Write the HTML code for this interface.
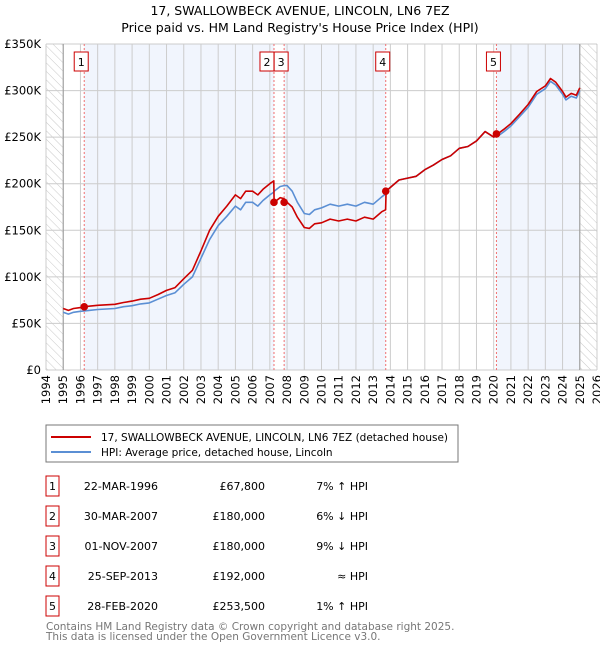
<!DOCTYPE html>
<html><head><meta charset="utf-8">
<style>
body{margin:0;background:#fff;font-family:"Liberation Sans","DejaVu Sans",sans-serif;}
#wrap{position:relative;width:600px;height:650px;overflow:hidden;}
text{font-family:"DejaVu Sans","Liberation Sans",sans-serif;}
</style></head>
<body>
<div id="wrap">
<svg id="svg" width="600" height="650" xmlns="http://www.w3.org/2000/svg">
<defs>
<pattern id="hatch" width="6" height="6" patternUnits="userSpaceOnUse" patternTransform="rotate(-45)">
<line x1="0" y1="0" x2="0" y2="6" stroke="#bbb" stroke-width="0.8"/>
</pattern>
</defs>
<text x="300" y="15" font-size="12.5" text-anchor="middle">17, SWALLOWBECK AVENUE, LINCOLN, LN6 7EZ</text>
<text x="300" y="32" font-size="12.5" text-anchor="middle">Price paid vs. HM Land Registry's House Price Index (HPI)</text>
<g id="plot"></g>
<g>
<rect x="46" y="425" width="412" height="37" fill="#fff" stroke="#777" stroke-width="1"/>
<line x1="51" y1="437" x2="91" y2="437" stroke="#cc0000" stroke-width="2"/>
<text x="101" y="441" font-size="10.5">17, SWALLOWBECK AVENUE, LINCOLN, LN6 7EZ (detached house)</text>
<line x1="51" y1="452" x2="91" y2="452" stroke="#5b8fd4" stroke-width="2"/>
<text x="101" y="456" font-size="10.5">HPI: Average price, detached house, Lincoln</text>
</g>
<g id="table" font-size="11"></g>
<text x="46" y="630" font-size="10.5" fill="#777">Contains HM Land Registry data © Crown copyright and database right 2025.</text>
<text x="46" y="640" font-size="10.5" fill="#777">This data is licensed under the Open Government Licence v3.0.</text>
</svg>
</div>
<script>
const years=[1995.0,1995.3,1995.6,1996.0,1996.5,1997.0,1997.5,1998.0,1998.5,1999.0,1999.5,2000.0,2000.5,2001.0,2001.5,2002.0,2002.5,2003.0,2003.5,2004.0,2004.5,2005.0,2005.3,2005.6,2006.0,2006.3,2006.6,2007.0,2007.23,2007.25,2007.6,2007.82,2008.0,2008.3,2008.6,2009.0,2009.3,2009.6,2010.0,2010.5,2011.0,2011.5,2012.0,2012.5,2013.0,2013.5,2013.72,2013.75,2014.0,2014.5,2015.0,2015.5,2016.0,2016.5,2017.0,2017.5,2018.0,2018.5,2019.0,2019.5,2020.0,2020.3,2020.6,2021.0,2021.5,2022.0,2022.5,2023.0,2023.3,2023.6,2024.0,2024.2,2024.5,2024.8,2025.0];
const hpi=[62,60,62,63,64,65,65.5,66,68,69,71,72,76,80,83,92,100,120,140,155,165,176,172,180,180,176,182,188,191,192,197,198,198,192,180,168,167,172,174,178,176,178,176,180,178,186,189,192,196,204,206,208,215,220,226,230,238,240,246,256,250,252,256,262,272,282,296,302,310,306,296,290,294,292,300];
const paid=[66,64,66,67,68.5,69.5,70,70.5,72.5,74,76,77,81,85.5,88.5,98,107,128,150,165,176,188,184,192,192,188,194,200,203,180,185,184,180,175,164,153,152,157,158,162,160,162,160,164,162,170,172,192,196,204,206,208,215,220,226,230,238,240,246,256,250,254.5,258.5,264.5,274.5,285,299,305,313,309,299,293,297,295,303];
const yTicks=[0,50,100,150,200,250,300,350];
const yTickLabels=["£0","£50K","£100K","£150K","£200K","£250K","£300K","£350K"];
const saleDates=[1996.22,2007.24,2007.83,2013.73,2020.16];
const salePrices=[67.8,180,180,192,253.5];
const saleLabels=["1","2","3","4","5"];
const saleDateText=["22-MAR-1996","30-MAR-2007","01-NOV-2007","25-SEP-2013","28-FEB-2020"];
const salePriceText=["£67,800","£180,000","£180,000","£192,000","£253,500"];
const saleHpiText=["7% ↑ HPI","6% ↓ HPI","9% ↓ HPI","≈ HPI","1% ↑ HPI"];

const NS="http://www.w3.org/2000/svg";
const L=46,R=597,T=44,B=370,X0=1994,X1=2026,YMAX=350;
const x=v=>L+(v-X0)/(X1-X0)*(R-L);
const y=v=>B-v/YMAX*(B-T);
const plot=document.getElementById('plot');
function mk(tag,attrs,parent){const e=document.createElementNS(NS,tag);for(const k in attrs)e.setAttribute(k,attrs[k]);(parent||plot).appendChild(e);return e;}

let bands=[[saleDates[0],saleDates[1]],[saleDates[2],saleDates[3]],[saleDates[4],2025]];
mk('rect',{x:L,y:T,width:R-L,height:B-T,fill:'#fff'});
bands.forEach(b=>{const r=mk('rect',{x:x(b[0]),y:T,width:x(b[1])-x(b[0]),height:B-T,fill:'#f1f5fd'});

});
let h1=mk('rect',{x:L,y:T,width:x(1995)-L,height:B-T,fill:'url(#hatch)'});


let h2=mk('rect',{x:x(2025),y:T,width:R-x(2025),height:B-T,fill:'url(#hatch)'});


for(let yr=X0;yr<=X1;yr++){
 const g=mk('line',{x1:x(yr),x2:x(yr),y1:T,y2:B,stroke:'#ccc','stroke-width':1});
 
 
 const t=mk('text',{x:0,y:0,'font-size':11.5,'text-anchor':'end',transform:`translate(${x(yr)+4},${B+5}) rotate(-90)`});
 t.textContent=yr;
 
 
}
yTicks.forEach((v,i)=>{
 const g=mk('line',{x1:L,x2:R,y1:y(v),y2:y(v),stroke:'#ccc','stroke-width':1});
 
 
 const t=mk('text',{x:L-5,y:y(v)+4,'font-size':11.5,'text-anchor':'end'});
 t.textContent=yTickLabels[i];
 
 
});
[1995,2025].forEach(v=>{const a=mk('line',{x1:x(v),x2:x(v),y1:T,y2:B,stroke:'#999','stroke-width':1});

});
saleDates.forEach(d=>{const l=mk('line',{x1:x(d),x2:x(d),y1:T,y2:B,stroke:'#f07070','stroke-width':1,'stroke-dasharray':'2,2'});

});
const pts=a=>a.map((v,i)=>x(years[i]).toFixed(1)+','+y(v).toFixed(1)).join(' ');
const hl=mk('polyline',{points:pts(hpi),fill:'none',stroke:'#5b8fd4','stroke-width':1.6,'stroke-linejoin':'round'});


const pl=mk('polyline',{points:pts(paid),fill:'none',stroke:'#cc0000','stroke-width':1.6,'stroke-linejoin':'round'});


saleDates.forEach((d,i)=>{
 const c=mk('circle',{cx:x(d),cy:y(salePrices[i]),r:3.8,fill:'#cc0000'});
 
 
});
const boxW=14;
let prevRight=-1e9;
saleDates.forEach((d,i)=>{
 let bx=x(d)-boxW/2-3;
 if(i+1<saleDates.length && x(saleDates[i+1])-x(d)<boxW) bx=x(d)-boxW;
 if(bx<prevRight) bx=prevRight;
 prevRight=bx+boxW;
 const g=mk('g',{});
 
 
 mk('rect',{x:bx,y:52,width:boxW,height:19,fill:'#fff',stroke:'#cc0000','stroke-width':1},g);
 const t=mk('text',{x:bx+boxW/2,y:66,'font-size':11,'text-anchor':'middle'},g);
 t.textContent=saleLabels[i];
});
const tb=document.getElementById('table');
saleDates.forEach((d,i)=>{
 const cy=483+i*30;
 const g=mk('g',{},tb);
 
 
 mk('rect',{x:46,y:cy-7,width:13,height:20,fill:'#fff',stroke:'#cc0000','stroke-width':1},g);
 let t=mk('text',{x:52.5,y:cy+7,'text-anchor':'middle'},g);t.textContent=saleLabels[i];
 t=mk('text',{x:158,y:cy+7,'text-anchor':'end'},g);t.textContent=saleDateText[i];
 t=mk('text',{x:265,y:cy+7,'text-anchor':'end'},g);t.textContent=salePriceText[i];
 t=mk('text',{x:368,y:cy+7,'text-anchor':'end'},g);t.textContent=saleHpiText[i];
});
</script>
</body></html>
